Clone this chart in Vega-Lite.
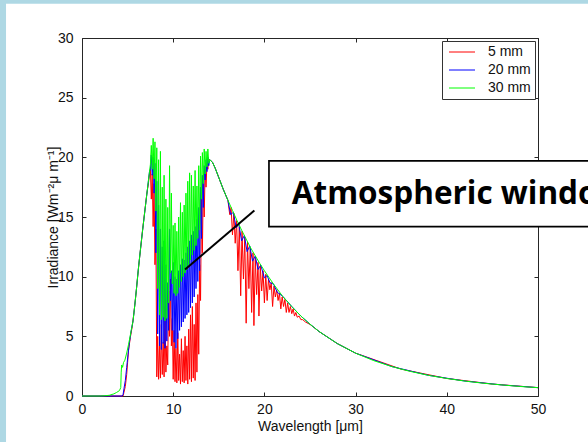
{
  "$schema": "https://vega.github.io/schema/vega-lite/v6.json",
  "width": 456,
  "height": 358,
  "autosize": {"type": "none"},
  "padding": {"left": 82, "top": 38, "right": 50, "bottom": 46},
  "background": "#ffffff",
  "config": {
    "view": {"stroke": null},
    "axis": {
      "grid": false,
      "domainColor": "#262626",
      "tickColor": "#262626",
      "tickSize": -4,
      "tickWidth": 1,
      "domainWidth": 1,
      "labelFont": "Liberation Sans",
      "labelFontSize": 14,
      "labelColor": "#111111",
      "titleFont": "Liberation Sans",
      "titleFontSize": 14,
      "titleFontWeight": "normal",
      "titleColor": "#111111",
      "labelFlush": false,
      "labelOverlap": false
    },
    "legend": {
      "orient": "top-right",
      "offset": 3,
      "strokeColor": "#333333",
      "fillColor": "#ffffff",
      "padding": 4,
      "symbolType": "M-2.6,0H2.6",
      "symbolSize": 100,
      "symbolStrokeWidth": 1,
      "symbolOffset": 9,
      "labelOffset": 19,
      "labelFont": "Liberation Sans",
      "labelFontSize": 14,
      "labelColor": "#111111",
      "rowPadding": 4,
      "cornerRadius": 0
    }
  },
  "datasets": {
    "red": [
      {"s":"5 mm","w":0,"v":0},{"s":"5 mm","w":2,"v":0},{"s":"5 mm","w":4.5,"v":0},{"s":"5 mm","w":4.6,"v":0.3},{"s":"5 mm","w":4.75,"v":0.8},{"s":"5 mm","w":4.9,"v":1.8},{"s":"5 mm","w":5.0,"v":2.8},{"s":"5 mm","w":5.1,"v":3.8},{"s":"5 mm","w":5.3,"v":4.9},{"s":"5 mm","w":5.5,"v":5.8},{"s":"5 mm","w":5.7,"v":7.0},{"s":"5 mm","w":5.9,"v":8.4},{"s":"5 mm","w":6.1,"v":10.0},{"s":"5 mm","w":6.3,"v":11.5},{"s":"5 mm","w":6.5,"v":12.9},{"s":"5 mm","w":6.7,"v":14.3},{"s":"5 mm","w":6.9,"v":15.6},{"s":"5 mm","w":7.1,"v":16.9},{"s":"5 mm","w":7.3,"v":17.9},
      {"s":"5 mm","w":7.4,"v":18.6},{"s":"5 mm","w":7.5,"v":19.0},{"s":"5 mm","w":7.6,"v":16.5},{"s":"5 mm","w":7.7,"v":18.6},{"s":"5 mm","w":7.8,"v":14.2},{"s":"5 mm","w":7.9,"v":17.8},{"s":"5 mm","w":8.0,"v":11.0},{"s":"5 mm","w":8.1,"v":14.0},{"s":"5 mm","w":8.2,"v":1.6},{"s":"5 mm","w":8.3,"v":5.0},{"s":"5 mm","w":8.4,"v":1.4},{"s":"5 mm","w":8.5,"v":4.2},{"s":"5 mm","w":8.6,"v":1.5},{"s":"5 mm","w":8.7,"v":6.0},{"s":"5 mm","w":8.8,"v":1.8},{"s":"5 mm","w":8.9,"v":4.5},{"s":"5 mm","w":9.0,"v":1.6},{"s":"5 mm","w":9.1,"v":7.5},{"s":"5 mm","w":9.2,"v":2.0},{"s":"5 mm","w":9.3,"v":4.2},{"s":"5 mm","w":9.4,"v":2.6},{"s":"5 mm","w":9.5,"v":8.8},{"s":"5 mm","w":9.6,"v":5.0},{"s":"5 mm","w":9.7,"v":9.8},{"s":"5 mm","w":9.8,"v":4.2},{"s":"5 mm","w":9.9,"v":6.5},{"s":"5 mm","w":10.0,"v":1.4},{"s":"5 mm","w":10.1,"v":5.5},{"s":"5 mm","w":10.2,"v":1.2},{"s":"5 mm","w":10.3,"v":4.0},{"s":"5 mm","w":10.4,"v":1.1},{"s":"5 mm","w":10.5,"v":5.3},{"s":"5 mm","w":10.6,"v":1.3},{"s":"5 mm","w":10.7,"v":3.5},{"s":"5 mm","w":10.8,"v":1.0},{"s":"5 mm","w":10.9,"v":4.8},{"s":"5 mm","w":11.0,"v":1.2},{"s":"5 mm","w":11.1,"v":3.8},{"s":"5 mm","w":11.2,"v":1.1},{"s":"5 mm","w":11.3,"v":5.0},{"s":"5 mm","w":11.4,"v":1.3},{"s":"5 mm","w":11.5,"v":4.2},{"s":"5 mm","w":11.6,"v":1.0},{"s":"5 mm","w":11.7,"v":5.6},{"s":"5 mm","w":11.8,"v":1.4},{"s":"5 mm","w":11.9,"v":6.8},{"s":"5 mm","w":12.0,"v":1.2},{"s":"5 mm","w":12.1,"v":7.5},{"s":"5 mm","w":12.2,"v":1.5},{"s":"5 mm","w":12.3,"v":6.0},{"s":"5 mm","w":12.4,"v":1.3},{"s":"5 mm","w":12.5,"v":7.8},{"s":"5 mm","w":12.6,"v":2.0},{"s":"5 mm","w":12.7,"v":8.5},{"s":"5 mm","w":12.8,"v":3.5},{"s":"5 mm","w":12.9,"v":11.0},{"s":"5 mm","w":13.0,"v":8.0},{"s":"5 mm","w":13.1,"v":16.5},{"s":"5 mm","w":13.2,"v":12.0},{"s":"5 mm","w":13.3,"v":17.8},{"s":"5 mm","w":13.4,"v":15.0},{"s":"5 mm","w":13.5,"v":19.0},{"s":"5 mm","w":13.6,"v":17.5},{"s":"5 mm","w":13.7,"v":19.5},{"s":"5 mm","w":13.8,"v":19.0},{"s":"5 mm","w":13.9,"v":19.8},{"s":"5 mm","w":14.0,"v":19.8},
      {"s":"5 mm","w":14.3,"v":19.6},{"s":"5 mm","w":14.6,"v":19.1},{"s":"5 mm","w":15.0,"v":18.3},{"s":"5 mm","w":15.5,"v":17.3},{"s":"5 mm","w":16.0,"v":16.4},
      {"s":"5 mm","w":16.2,"v":15.2},{"s":"5 mm","w":16.35,"v":15.8},{"s":"5 mm","w":16.5,"v":13.5},{"s":"5 mm","w":16.65,"v":15.3},{"s":"5 mm","w":16.8,"v":12.8},{"s":"5 mm","w":16.95,"v":14.7},{"s":"5 mm","w":17.1,"v":10.5},{"s":"5 mm","w":17.25,"v":14.2},{"s":"5 mm","w":17.4,"v":8.4},{"s":"5 mm","w":17.55,"v":13.8},{"s":"5 mm","w":17.7,"v":9.8},{"s":"5 mm","w":17.85,"v":13.3},{"s":"5 mm","w":18.0,"v":6.1},{"s":"5 mm","w":18.15,"v":12.9},{"s":"5 mm","w":18.3,"v":9.0},{"s":"5 mm","w":18.45,"v":12.4},{"s":"5 mm","w":18.6,"v":7.0},{"s":"5 mm","w":18.75,"v":12.0},{"s":"5 mm","w":18.85,"v":5.9},{"s":"5 mm","w":19.0,"v":11.6},{"s":"5 mm","w":19.15,"v":8.5},{"s":"5 mm","w":19.3,"v":11.2},{"s":"5 mm","w":19.4,"v":6.7},{"s":"5 mm","w":19.55,"v":10.9},{"s":"5 mm","w":19.7,"v":8.8},{"s":"5 mm","w":19.85,"v":10.5},{"s":"5 mm","w":20.0,"v":7.8},{"s":"5 mm","w":20.15,"v":10.2},{"s":"5 mm","w":20.3,"v":8.0},{"s":"5 mm","w":20.45,"v":9.8},{"s":"5 mm","w":20.6,"v":8.9},{"s":"5 mm","w":20.75,"v":9.5},{"s":"5 mm","w":20.9,"v":7.5},{"s":"5 mm","w":21.05,"v":9.2},{"s":"5 mm","w":21.2,"v":8.3},{"s":"5 mm","w":21.35,"v":8.9},{"s":"5 mm","w":21.5,"v":8.0},{"s":"5 mm","w":21.65,"v":8.6},{"s":"5 mm","w":21.8,"v":7.3},{"s":"5 mm","w":21.95,"v":8.3},{"s":"5 mm","w":22.1,"v":7.5},{"s":"5 mm","w":22.25,"v":8.1},{"s":"5 mm","w":22.4,"v":7.0},{"s":"5 mm","w":22.55,"v":7.8},{"s":"5 mm","w":22.7,"v":7.0},{"s":"5 mm","w":22.85,"v":7.5},{"s":"5 mm","w":23.0,"v":6.9},{"s":"5 mm","w":23.15,"v":7.3},{"s":"5 mm","w":23.3,"v":6.7},{"s":"5 mm","w":23.45,"v":7.0},{"s":"5 mm","w":23.6,"v":6.6},{"s":"5 mm","w":23.8,"v":6.7},{"s":"5 mm","w":24.0,"v":6.4},{"s":"5 mm","w":24.2,"v":6.4},{"s":"5 mm","w":24.5,"v":6.2},{"s":"5 mm","w":25.0,"v":6.0},{"s":"5 mm","w":26.0,"v":5.4},{"s":"5 mm","w":28.0,"v":4.39},{"s":"5 mm","w":30.0,"v":3.59},{"s":"5 mm","w":35.0,"v":2.25},{"s":"5 mm","w":40.0,"v":1.47},{"s":"5 mm","w":45.0,"v":1.0},{"s":"5 mm","w":50.0,"v":0.7}
    ],
    "blue": [
      {"s":"20 mm","w":0,"v":0},{"s":"20 mm","w":4.4,"v":0},{"s":"20 mm","w":4.5,"v":0.1},{"s":"20 mm","w":4.6,"v":0.6},{"s":"20 mm","w":4.75,"v":1.3},{"s":"20 mm","w":4.9,"v":2.4},{"s":"20 mm","w":5.05,"v":3.5},{"s":"20 mm","w":5.2,"v":4.5},{"s":"20 mm","w":5.4,"v":5.5},{"s":"20 mm","w":5.6,"v":6.3},{"s":"20 mm","w":5.8,"v":7.7},{"s":"20 mm","w":6.0,"v":9.2},{"s":"20 mm","w":6.2,"v":10.8},{"s":"20 mm","w":6.4,"v":12.2},{"s":"20 mm","w":6.6,"v":13.6},{"s":"20 mm","w":6.8,"v":14.9},{"s":"20 mm","w":7.0,"v":16.2},{"s":"20 mm","w":7.2,"v":17.5},{"s":"20 mm","w":7.4,"v":18.8},
      {"s":"20 mm","w":7.5,"v":19.0},{"s":"20 mm","w":7.6,"v":20.2},{"s":"20 mm","w":7.7,"v":18.5},{"s":"20 mm","w":7.8,"v":20.0},{"s":"20 mm","w":7.9,"v":17.0},{"s":"20 mm","w":8.0,"v":19.5},{"s":"20 mm","w":8.1,"v":12.0},{"s":"20 mm","w":8.2,"v":18.0},{"s":"20 mm","w":8.3,"v":5.2},{"s":"20 mm","w":8.4,"v":16.0},{"s":"20 mm","w":8.5,"v":4.2},{"s":"20 mm","w":8.6,"v":14.0},{"s":"20 mm","w":8.7,"v":3.9},{"s":"20 mm","w":8.8,"v":12.5},{"s":"20 mm","w":8.9,"v":4.4},{"s":"20 mm","w":9.0,"v":13.0},{"s":"20 mm","w":9.1,"v":4.0},{"s":"20 mm","w":9.2,"v":11.0},{"s":"20 mm","w":9.3,"v":4.6},{"s":"20 mm","w":9.4,"v":9.5},{"s":"20 mm","w":9.5,"v":5.5},{"s":"20 mm","w":9.6,"v":14.0},{"s":"20 mm","w":9.7,"v":8.0},{"s":"20 mm","w":9.8,"v":10.5},{"s":"20 mm","w":9.9,"v":5.5},{"s":"20 mm","w":10.0,"v":11.2},{"s":"20 mm","w":10.1,"v":4.5},{"s":"20 mm","w":10.2,"v":10.0},{"s":"20 mm","w":10.3,"v":4.0},{"s":"20 mm","w":10.4,"v":9.8},{"s":"20 mm","w":10.5,"v":4.8},{"s":"20 mm","w":10.6,"v":10.5},{"s":"20 mm","w":10.7,"v":5.5},{"s":"20 mm","w":10.8,"v":11.0},{"s":"20 mm","w":10.9,"v":5.8},{"s":"20 mm","w":11.0,"v":11.5},{"s":"20 mm","w":11.1,"v":6.2},{"s":"20 mm","w":11.2,"v":11.4},{"s":"20 mm","w":11.3,"v":6.5},{"s":"20 mm","w":11.4,"v":12.0},{"s":"20 mm","w":11.5,"v":6.8},{"s":"20 mm","w":11.6,"v":12.5},{"s":"20 mm","w":11.7,"v":7.0},{"s":"20 mm","w":11.8,"v":13.0},{"s":"20 mm","w":11.9,"v":7.4},{"s":"20 mm","w":12.0,"v":13.5},{"s":"20 mm","w":12.1,"v":7.8},{"s":"20 mm","w":12.2,"v":13.8},{"s":"20 mm","w":12.3,"v":8.3},{"s":"20 mm","w":12.4,"v":14.2},{"s":"20 mm","w":12.5,"v":9.0},{"s":"20 mm","w":12.6,"v":14.8},{"s":"20 mm","w":12.7,"v":9.6},{"s":"20 mm","w":12.8,"v":15.8},{"s":"20 mm","w":12.9,"v":10.5},{"s":"20 mm","w":13.0,"v":17.5},{"s":"20 mm","w":13.1,"v":13.2},{"s":"20 mm","w":13.2,"v":18.5},{"s":"20 mm","w":13.3,"v":15.8},{"s":"20 mm","w":13.4,"v":19.3},{"s":"20 mm","w":13.5,"v":18.1},{"s":"20 mm","w":13.6,"v":19.8},{"s":"20 mm","w":13.7,"v":18.8},{"s":"20 mm","w":13.8,"v":20.0},{"s":"20 mm","w":13.9,"v":19.3},{"s":"20 mm","w":14.0,"v":19.8},
      {"s":"20 mm","w":14.3,"v":19.6},{"s":"20 mm","w":14.6,"v":19.1},{"s":"20 mm","w":15.0,"v":18.3},{"s":"20 mm","w":15.5,"v":17.3},{"s":"20 mm","w":16.0,"v":16.4},{"s":"20 mm","w":16.3,"v":15.2},{"s":"20 mm","w":16.6,"v":15.4},{"s":"20 mm","w":16.9,"v":14.1},{"s":"20 mm","w":17.2,"v":14.4},{"s":"20 mm","w":17.5,"v":13.0},{"s":"20 mm","w":17.8,"v":13.45},{"s":"20 mm","w":18.1,"v":12.1},{"s":"20 mm","w":18.4,"v":12.57},{"s":"20 mm","w":18.7,"v":11.3},{"s":"20 mm","w":19.0,"v":11.74},{"s":"20 mm","w":19.3,"v":10.6},{"s":"20 mm","w":19.6,"v":10.97},{"s":"20 mm","w":20.0,"v":9.9},{"s":"20 mm","w":20.3,"v":10.1},{"s":"20 mm","w":20.6,"v":9.5},{"s":"20 mm","w":21.0,"v":9.38},{"s":"20 mm","w":21.4,"v":8.7},{"s":"20 mm","w":22.0,"v":8.36},{"s":"20 mm","w":23.0,"v":7.5},{"s":"20 mm","w":24.0,"v":6.7},{"s":"20 mm","w":25.0,"v":6.02},{"s":"20 mm","w":26.0,"v":5.4},{"s":"20 mm","w":28.0,"v":4.39},{"s":"20 mm","w":30.0,"v":3.59},{"s":"20 mm","w":34.0,"v":2.46},{"s":"20 mm","w":38.0,"v":1.73},{"s":"20 mm","w":42.0,"v":1.25},{"s":"20 mm","w":46.0,"v":0.93},{"s":"20 mm","w":50.0,"v":0.7}
    ],
    "green": [
      {"s":"30 mm","w":0,"v":0},{"s":"30 mm","w":2,"v":0},{"s":"30 mm","w":2.5,"v":0.02},{"s":"30 mm","w":3.0,"v":0.06},{"s":"30 mm","w":3.5,"v":0.18},{"s":"30 mm","w":3.8,"v":0.3},{"s":"30 mm","w":4.1,"v":0.45},{"s":"30 mm","w":4.25,"v":0.7},{"s":"30 mm","w":4.3,"v":2.0},{"s":"30 mm","w":4.35,"v":2.6},{"s":"30 mm","w":4.45,"v":2.4},{"s":"30 mm","w":4.55,"v":2.8},{"s":"30 mm","w":4.7,"v":3.0},{"s":"30 mm","w":4.9,"v":3.6},{"s":"30 mm","w":5.1,"v":4.3},{"s":"30 mm","w":5.2,"v":4.7},{"s":"30 mm","w":5.4,"v":5.5},{"s":"30 mm","w":5.6,"v":6.3},{"s":"30 mm","w":5.8,"v":7.7},{"s":"30 mm","w":6.0,"v":9.2},{"s":"30 mm","w":6.2,"v":10.8},{"s":"30 mm","w":6.4,"v":12.2},{"s":"30 mm","w":6.6,"v":13.6},{"s":"30 mm","w":6.8,"v":14.9},{"s":"30 mm","w":7.0,"v":16.2},{"s":"30 mm","w":7.2,"v":17.5},{"s":"30 mm","w":7.4,"v":18.8},
      {"s":"30 mm","w":7.5,"v":19.4},{"s":"30 mm","w":7.6,"v":21.0},{"s":"30 mm","w":7.7,"v":19.0},{"s":"30 mm","w":7.8,"v":21.6},{"s":"30 mm","w":7.9,"v":18.2},{"s":"30 mm","w":8.0,"v":21.3},{"s":"30 mm","w":8.1,"v":15.5},{"s":"30 mm","w":8.2,"v":20.8},{"s":"30 mm","w":8.3,"v":9.0},{"s":"30 mm","w":8.4,"v":19.8},{"s":"30 mm","w":8.5,"v":6.8},{"s":"30 mm","w":8.6,"v":20.5},{"s":"30 mm","w":8.7,"v":6.4},{"s":"30 mm","w":8.8,"v":17.5},{"s":"30 mm","w":8.9,"v":6.6},{"s":"30 mm","w":9.0,"v":18.5},{"s":"30 mm","w":9.1,"v":6.3},{"s":"30 mm","w":9.2,"v":16.5},{"s":"30 mm","w":9.3,"v":6.5},{"s":"30 mm","w":9.4,"v":15.8},{"s":"30 mm","w":9.5,"v":7.8},{"s":"30 mm","w":9.6,"v":19.3},{"s":"30 mm","w":9.7,"v":10.3},{"s":"30 mm","w":9.8,"v":17.0},{"s":"30 mm","w":9.9,"v":9.4},{"s":"30 mm","w":10.0,"v":14.3},{"s":"30 mm","w":10.1,"v":8.6},{"s":"30 mm","w":10.2,"v":14.5},{"s":"30 mm","w":10.3,"v":8.4},{"s":"30 mm","w":10.4,"v":13.8},{"s":"30 mm","w":10.5,"v":8.6},{"s":"30 mm","w":10.6,"v":15.0},{"s":"30 mm","w":10.7,"v":9.1},{"s":"30 mm","w":10.8,"v":16.2},{"s":"30 mm","w":10.9,"v":9.6},{"s":"30 mm","w":11.0,"v":15.4},{"s":"30 mm","w":11.1,"v":10.0},{"s":"30 mm","w":11.2,"v":16.0},{"s":"30 mm","w":11.3,"v":10.3},{"s":"30 mm","w":11.4,"v":17.0},{"s":"30 mm","w":11.5,"v":10.6},{"s":"30 mm","w":11.6,"v":18.0},{"s":"30 mm","w":11.7,"v":11.0},{"s":"30 mm","w":11.8,"v":18.7},{"s":"30 mm","w":11.9,"v":11.4},{"s":"30 mm","w":12.0,"v":18.5},{"s":"30 mm","w":12.1,"v":11.8},{"s":"30 mm","w":12.2,"v":17.6},{"s":"30 mm","w":12.3,"v":12.2},{"s":"30 mm","w":12.4,"v":18.9},{"s":"30 mm","w":12.5,"v":12.6},{"s":"30 mm","w":12.6,"v":17.6},{"s":"30 mm","w":12.7,"v":13.2},{"s":"30 mm","w":12.8,"v":19.3},{"s":"30 mm","w":12.9,"v":13.9},{"s":"30 mm","w":13.0,"v":20.1},{"s":"30 mm","w":13.1,"v":16.5},{"s":"30 mm","w":13.2,"v":20.4},{"s":"30 mm","w":13.3,"v":17.8},{"s":"30 mm","w":13.4,"v":20.7},{"s":"30 mm","w":13.5,"v":18.6},{"s":"30 mm","w":13.6,"v":20.5},{"s":"30 mm","w":13.7,"v":19.2},{"s":"30 mm","w":13.8,"v":20.7},{"s":"30 mm","w":13.9,"v":19.5},{"s":"30 mm","w":14.0,"v":19.8},
      {"s":"30 mm","w":14.3,"v":19.6},{"s":"30 mm","w":14.6,"v":19.1},{"s":"30 mm","w":15.0,"v":18.3},{"s":"30 mm","w":15.5,"v":17.3},{"s":"30 mm","w":16.0,"v":16.4},{"s":"30 mm","w":16.5,"v":15.55},{"s":"30 mm","w":17.0,"v":14.7},{"s":"30 mm","w":17.5,"v":13.9},{"s":"30 mm","w":18.0,"v":13.15},{"s":"30 mm","w":18.5,"v":12.4},{"s":"30 mm","w":19.0,"v":11.75},{"s":"30 mm","w":19.5,"v":11.1},{"s":"30 mm","w":20.0,"v":10.5},{"s":"30 mm","w":21.0,"v":9.38},{"s":"30 mm","w":22.0,"v":8.36},{"s":"30 mm","w":23.0,"v":7.5},{"s":"30 mm","w":24.0,"v":6.7},{"s":"30 mm","w":25.0,"v":6.02},{"s":"30 mm","w":26.0,"v":5.4},{"s":"30 mm","w":28.0,"v":4.39},{"s":"30 mm","w":30.0,"v":3.59},{"s":"30 mm","w":32.0,"v":2.96},{"s":"30 mm","w":34.0,"v":2.46},{"s":"30 mm","w":36.0,"v":2.06},{"s":"30 mm","w":38.0,"v":1.73},{"s":"30 mm","w":40.0,"v":1.47},{"s":"30 mm","w":42.0,"v":1.25},{"s":"30 mm","w":44.0,"v":1.07},{"s":"30 mm","w":46.0,"v":0.93},{"s":"30 mm","w":48.0,"v":0.8},{"s":"30 mm","w":50.0,"v":0.7}
    ]
  },
  "layer": [
    {
      "data": {"values": [{"x1": -12, "x2": -8.33, "y1": -10, "y2": 40}, {"x1": -12, "x2": 70, "y1": 32.86, "y2": 40}]},
      "mark": {"type": "rect", "fill": "#aed8e4", "stroke": null},
      "encoding": {
        "x": {"field": "x1", "type": "quantitative", "axis": null},
        "x2": {"field": "x2"},
        "y": {"field": "y1", "type": "quantitative", "axis": null},
        "y2": {"field": "y2"}
      }
    },
    {
      "data": {"name": "red"},
      "mark": {"type": "line", "strokeWidth": 1},
      "encoding": {
        "x": {"field": "w", "type": "quantitative", "scale": {"domain": [0, 50], "nice": false, "zero": false},
              "axis": {"orient": "bottom", "values": [0, 10, 20, 30, 40, 50], "title": "Wavelength [μm]", "labelPadding": 10, "titlePadding": 3}},
        "y": {"field": "v", "type": "quantitative", "scale": {"domain": [0, 30], "nice": false, "zero": false},
              "axis": {"orient": "left", "values": [0, 5, 10, 15, 20, 25, 30], "title": "Irradiance [Wm⁻²μ m⁻¹]", "labelPadding": 13, "titlePadding": -3}},
        "color": {"field": "s", "type": "nominal", "scale": {"domain": ["5 mm", "20 mm", "30 mm"], "range": ["#ff0000", "#0000ff", "#00ff00"]}, "legend": {"title": null}}
      }
    },
    {
      "data": {"name": "blue"},
      "mark": {"type": "line", "strokeWidth": 1},
      "encoding": {
        "x": {"field": "w", "type": "quantitative", "axis": null},
        "y": {"field": "v", "type": "quantitative", "axis": null},
        "color": {"field": "s", "type": "nominal", "legend": {"title": null}}
      }
    },
    {
      "data": {"name": "green"},
      "mark": {"type": "line", "strokeWidth": 1},
      "encoding": {
        "x": {"field": "w", "type": "quantitative", "axis": null},
        "y": {"field": "v", "type": "quantitative", "axis": null},
        "color": {"field": "s", "type": "nominal", "legend": {"title": null}}
      }
    },
    {
      "data": {"values": [{"x1": 11.3, "y1": 10.6, "x2": 18.9, "y2": 15.55}]},
      "mark": {"type": "rule", "color": "#000000", "strokeWidth": 2},
      "encoding": {
        "x": {"field": "x1", "type": "quantitative", "axis": {"orient": "top", "values": [0, 10, 20, 30, 40, 50], "labels": false, "title": null}},
        "y": {"field": "y1", "type": "quantitative", "axis": {"orient": "right", "values": [0, 5, 10, 15, 20, 25, 30], "labels": false, "title": null}},
        "x2": {"field": "x2"},
        "y2": {"field": "y2"}
      }
    },
    {
      "data": {"values": [{"x1": 20.5, "x2": 62, "y1": 14.2, "y2": 19.7}]},
      "mark": {"type": "rect", "fill": "#ffffff", "stroke": "#000000", "strokeWidth": 1.7},
      "encoding": {
        "x": {"field": "x1", "type": "quantitative", "axis": null},
        "x2": {"field": "x2"},
        "y": {"field": "y1", "type": "quantitative", "axis": null},
        "y2": {"field": "y2"}
      }
    },
    {
      "data": {"values": [{"x": 23.0, "y": 16.05, "t": "Atmospheric window"}]},
      "mark": {"type": "text", "font": "Open Sans", "fontWeight": "bold", "fontSize": 31.5, "align": "left", "baseline": "alphabetic", "color": "#000000"},
      "encoding": {
        "x": {"field": "x", "type": "quantitative", "axis": null},
        "y": {"field": "y", "type": "quantitative", "axis": null},
        "text": {"field": "t"}
      }
    }
  ],
  "resolve": {"axis": {"x": "independent", "y": "independent"}}
}
